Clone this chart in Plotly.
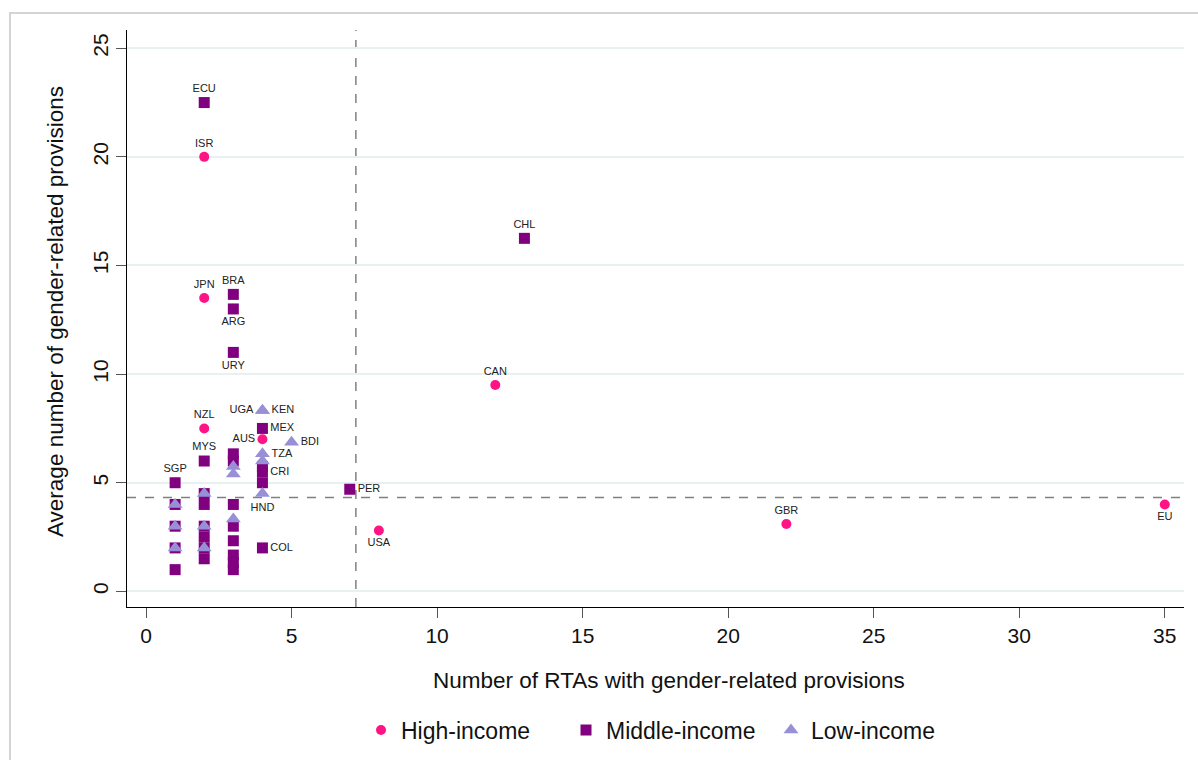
import plotly.graph_objects as go

# ---------------- data ----------------
high_x = [2, 2, 2, 4, 12, 8, 22, 35]
high_y = [20, 13.5, 7.5, 7.0, 9.5, 2.8, 3.1, 4.0]
high_lab = ["ISR", "JPN", "NZL", "AUS", "CAN", "USA", "GBR", "EU"]

mid_x = [2, 3, 3, 3, 13, 4, 2, 1, 4, 7, 4,
         1, 1, 1, 1,
         2, 2, 2, 2, 2, 2,
         3, 3, 3, 3, 3, 3, 3, 3,
         4, 4]
mid_y = [22.5, 13.67, 13.0, 11.0, 16.25, 7.5, 6.0, 5.0, 5.5, 4.7, 2.0,
         4, 3, 2, 1,
         4.5, 4, 3, 2.5, 2, 1.5,
         6.33, 6.0, 4, 3, 2.33, 1.67, 1.33, 1.0,
         5.75, 5.0]
mid_lab = ["ECU", "BRA", "ARG", "URY", "CHL", "MEX", "MYS", "SGP", "CRI", "PER", "COL",
           "", "", "", "",
           "", "", "", "", "", "",
           "", "", "", "", "", "", "", "",
           "", ""]

low_x = [4, 4, 4, 5, 4,
         1, 1, 1, 2, 2, 2, 3, 3, 3, 4]
low_y = [8.33, 8.33, 6.33, 6.86, 4.5,
         4, 3, 2, 4.5, 3, 2, 5.75, 5.4, 3.33, 6.0]
low_lab = ["UGA", "KEN", "TZA", "BDI", "HND",
           "", "", "", "", "", "", "", "", "", ""]

mean_rtas = 7.21
mean_prov = 4.32

x_ticks = [0, 5, 10, 15, 20, 25, 30, 35]
y_ticks = [0, 5, 10, 15, 20, 25]

x_title = "Number of RTAs with gender-related provisions"
y_title = "Average number of gender-related provisions"

# ---------------- styles ----------------
label_pos = {
    "ECU": "top center", "ISR": "top center", "JPN": "top center", "BRA": "top center",
    "ARG": "bottom center", "URY": "bottom center", "CHL": "top center",
    "CAN": "top center", "NZL": "top center", "UGA": "middle left", "KEN": "middle right",
    "MEX": "middle right", "AUS": "middle left", "MYS": "top center", "SGP": "top center",
    "TZA": "middle right", "CRI": "middle right", "BDI": "middle right",
    "HND": "bottom center", "PER": "middle right", "USA": "bottom center",
    "GBR": "top center", "EU": "bottom center", "COL": "middle right",
}

FONT = "Liberation Sans, Arial, sans-serif"
PINK = "#ff1485"
PURPLE = "#800080"
LAV = "#9890d6"

# plot-area geometry in pixels (for paper-coordinate conversion)
L, R, T, B = 127, 1184, 30, 607
W, H = R - L, B - T


def px_x(px):
    return (px - L) / W


def px_y(py):
    return (B - py) / H


def positions(labels):
    return [label_pos.get(l, "top center") for l in labels]


fig = go.Figure()
fig.add_trace(go.Scatter(
    x=high_x, y=high_y, text=high_lab, mode="markers+text", name="High-income",
    textposition=positions(high_lab),
    textfont=dict(size=11, color="#222222", family=FONT),
    marker=dict(symbol="circle", size=10, color=PINK),
))
fig.add_trace(go.Scatter(
    x=mid_x, y=mid_y, text=mid_lab, mode="markers+text", name="Middle-income",
    textposition=positions(mid_lab),
    textfont=dict(size=11, color="#222222", family=FONT),
    marker=dict(symbol="square", size=11, color=PURPLE),
))
fig.add_trace(go.Scatter(
    x=low_x, y=low_y, text=low_lab, mode="markers+text", name="Low-income",
    textposition=positions(low_lab),
    textfont=dict(size=11, color="#222222", family=FONT),
    marker=dict(symbol="triangle-up", size=13, color=LAV),
))

# reference lines
fig.add_shape(type="line", xref="x", yref="paper", x0=mean_rtas, x1=mean_rtas, y0=0, y1=1,
              line=dict(color="#808080", width=1.5, dash="dash"), layer="below")
fig.add_shape(type="line", xref="paper", yref="y", x0=0, x1=1, y0=mean_prov, y1=mean_prov,
              line=dict(color="#808080", width=1.5, dash="dash"), layer="below")

# outer frame
fig.add_shape(type="rect", xref="paper", yref="paper",
              x0=px_x(10), x1=px_x(1230), y0=px_y(800), y1=px_y(13),
              line=dict(color="#d4d4d4", width=2), fillcolor="rgba(0,0,0,0)", layer="below")

# axis titles
fig.add_annotation(text=x_title, xref="paper", yref="paper", x=px_x(669), y=px_y(680),
                   xanchor="center", yanchor="middle", showarrow=False,
                   font=dict(size=22.5, family=FONT, color="#111111"))
fig.add_annotation(text=y_title, xref="paper", yref="paper", x=px_x(55), y=px_y(312),
                   xanchor="center", yanchor="middle", showarrow=False, textangle=-90,
                   font=dict(size=22.5, family=FONT, color="#111111"))

fig.update_layout(
    width=1198, height=760,
    margin=dict(l=L, r=1198 - R, t=T, b=760 - B, autoexpand=False),
    paper_bgcolor="white", plot_bgcolor="white",
    font=dict(family=FONT, size=21, color="#111111"),
    showlegend=True,
    legend=dict(orientation="h", x=px_x(361), xanchor="left", y=px_y(730), yanchor="middle",
                font=dict(size=23, family=FONT), itemwidth=30, traceorder="normal",
                entrywidth=160, entrywidthmode="pixels",
                bgcolor="rgba(0,0,0,0)"),
    xaxis=dict(
        range=[-0.653, 35.66], tickvals=x_ticks, ticktext=[str(v) for v in x_ticks],
        showgrid=False, zeroline=False, showline=True, linecolor="#000000", linewidth=1,
        ticks="outside", ticklen=10, tickcolor="#555555", tickwidth=1,
        tickfont=dict(size=21, family=FONT, color="#111111"),
    ),
    yaxis=dict(
        range=[-0.72, 25.84], tickvals=y_ticks, ticktext=[str(v) for v in y_ticks],
        showgrid=True, gridcolor="#e8f0f2", gridwidth=2, zeroline=False,
        showline=True, linecolor="#000000", linewidth=1,
        ticks="outside", ticklen=10, tickcolor="#555555", tickwidth=1, tickangle=-90,
        tickfont=dict(size=21, family=FONT, color="#111111"),
    ),
)

fig.write_html("out.html", config={"displayModeBar": False},
               post_script="document.body.style.margin='0px';")
